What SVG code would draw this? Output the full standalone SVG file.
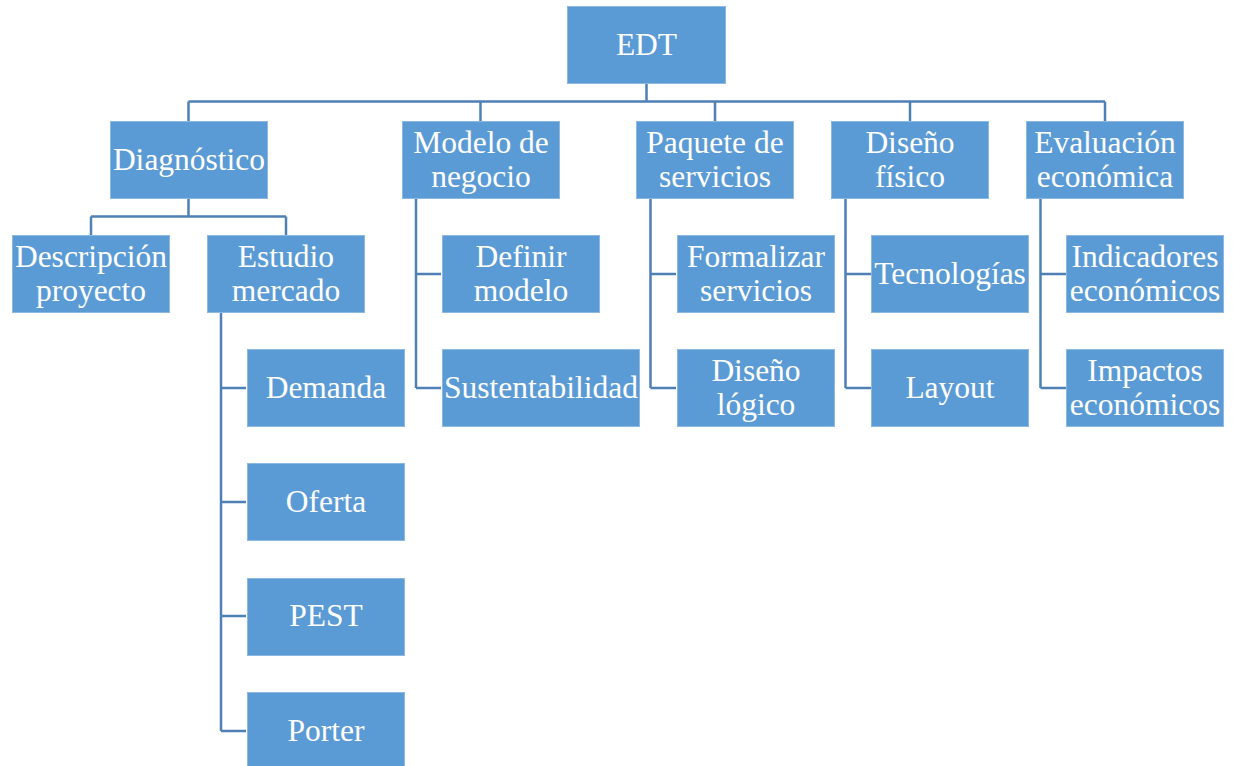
<svg xmlns="http://www.w3.org/2000/svg" width="1233" height="766" viewBox="0 0 1233 766">
  <style>
    .box { fill: #5B9BD5; stroke: #8DB8E2; stroke-width: 1; }
    .lbl { font-family: "Liberation Serif", serif; font-size: 31.5px; fill: #ffffff; text-anchor: middle; }
    .wire { fill: none; stroke: #4E7FB5; stroke-width: 2.5; }
  </style>
  <rect width="1233" height="766" fill="#ffffff"/>

  <!-- connectors -->
  <g id="connectors" class="wire">
    <!-- root to first level -->
    <path d="M646.5 84 V101.5 M188.5 101.5 H1105 M188.5 101.5 V121 M480.5 101.5 V121 M715 101.5 V121 M910 101.5 V121 M1105 101.5 V121"/>
    <!-- Diagnóstico -->
    <path d="M188.5 199 V216.5 M91 216.5 H286 M91 216.5 V235 M286 216.5 V235"/>
    <!-- Estudio mercado -->
    <path d="M221 313 V731 M221 388 H246 M221 502 H246 M221 616 H246 M221 731 H246"/>
    <!-- Modelo de negocio -->
    <path d="M416 199 V388 M416 274 H441 M416 388 H441"/>
    <!-- Paquete de servicios -->
    <path d="M650.5 199 V388 M650.5 274 H676 M650.5 388 H676"/>
    <!-- Diseño físico -->
    <path d="M845.5 199 V388 M845.5 274 H871 M845.5 388 H871"/>
    <!-- Evaluación económica -->
    <path d="M1040.5 199 V388 M1040.5 274 H1066 M1040.5 388 H1066"/>
  </g>

  <!-- root -->
  <g id="edt">
    <rect class="box" x="567.5" y="6.5" width="158" height="77"/>
    <text class="lbl" x="646.5" y="55">EDT</text>
  </g>

  <!-- first level -->
  <g id="diagnostico">
    <rect class="box" x="110.5" y="121.5" width="157" height="77"/>
    <text class="lbl" x="189" y="170">Diagnóstico</text>
  </g>
  <g id="modelo-negocio">
    <rect class="box" x="402.5" y="121.5" width="157" height="77"/>
    <text class="lbl" x="481" y="153">Modelo de</text>
    <text class="lbl" x="481" y="187">negocio</text>
  </g>
  <g id="paquete-servicios">
    <rect class="box" x="636.5" y="121.5" width="157" height="77"/>
    <text class="lbl" x="715" y="153">Paquete de</text>
    <text class="lbl" x="715" y="187">servicios</text>
  </g>
  <g id="diseno-fisico">
    <rect class="box" x="831.5" y="121.5" width="157" height="77"/>
    <text class="lbl" x="910" y="153">Diseño</text>
    <text class="lbl" x="910" y="187">físico</text>
  </g>
  <g id="evaluacion-economica">
    <rect class="box" x="1026.5" y="121.5" width="157" height="77"/>
    <text class="lbl" x="1105" y="153">Evaluación</text>
    <text class="lbl" x="1105" y="187">económica</text>
  </g>

  <!-- Diagnóstico children -->
  <g id="descripcion-proyecto">
    <rect class="box" x="12.5" y="235.5" width="157" height="77"/>
    <text class="lbl" x="91" y="267">Descripción</text>
    <text class="lbl" x="91" y="301">proyecto</text>
  </g>
  <g id="estudio-mercado">
    <rect class="box" x="207.5" y="235.5" width="157" height="77"/>
    <text class="lbl" x="286" y="267">Estudio</text>
    <text class="lbl" x="286" y="301">mercado</text>
  </g>

  <!-- Estudio mercado children -->
  <g id="demanda">
    <rect class="box" x="247.5" y="349.5" width="157" height="77"/>
    <text class="lbl" x="326" y="398">Demanda</text>
  </g>
  <g id="oferta">
    <rect class="box" x="247.5" y="463.5" width="157" height="77"/>
    <text class="lbl" x="326" y="512">Oferta</text>
  </g>
  <g id="pest">
    <rect class="box" x="247.5" y="578.5" width="157" height="77"/>
    <text class="lbl" x="326" y="626">PEST</text>
  </g>
  <g id="porter">
    <rect class="box" x="247.5" y="692.5" width="157" height="77"/>
    <text class="lbl" x="326" y="741">Porter</text>
  </g>

  <!-- Modelo de negocio children -->
  <g id="definir-modelo">
    <rect class="box" x="442.5" y="235.5" width="157" height="77"/>
    <text class="lbl" x="521" y="267">Definir</text>
    <text class="lbl" x="521" y="301">modelo</text>
  </g>
  <g id="sustentabilidad">
    <rect class="box" x="442.5" y="349.5" width="197" height="77"/>
    <text class="lbl" x="541" y="398">Sustentabilidad</text>
  </g>

  <!-- Paquete de servicios children -->
  <g id="formalizar-servicios">
    <rect class="box" x="677.5" y="235.5" width="157" height="77"/>
    <text class="lbl" x="756" y="267">Formalizar</text>
    <text class="lbl" x="756" y="301">servicios</text>
  </g>
  <g id="diseno-logico">
    <rect class="box" x="677.5" y="349.5" width="157" height="77"/>
    <text class="lbl" x="756" y="381">Diseño</text>
    <text class="lbl" x="756" y="415">lógico</text>
  </g>

  <!-- Diseño físico children -->
  <g id="tecnologias">
    <rect class="box" x="871.5" y="235.5" width="157" height="77"/>
    <text class="lbl" x="950" y="284">Tecnologías</text>
  </g>
  <g id="layout">
    <rect class="box" x="871.5" y="349.5" width="157" height="77"/>
    <text class="lbl" x="950" y="398">Layout</text>
  </g>

  <!-- Evaluación económica children -->
  <g id="indicadores-economicos">
    <rect class="box" x="1066.5" y="235.5" width="157" height="77"/>
    <text class="lbl" x="1145" y="267">Indicadores</text>
    <text class="lbl" x="1145" y="301">económicos</text>
  </g>
  <g id="impactos-economicos">
    <rect class="box" x="1066.5" y="349.5" width="157" height="77"/>
    <text class="lbl" x="1145" y="381">Impactos</text>
    <text class="lbl" x="1145" y="415">económicos</text>
  </g>
</svg>
